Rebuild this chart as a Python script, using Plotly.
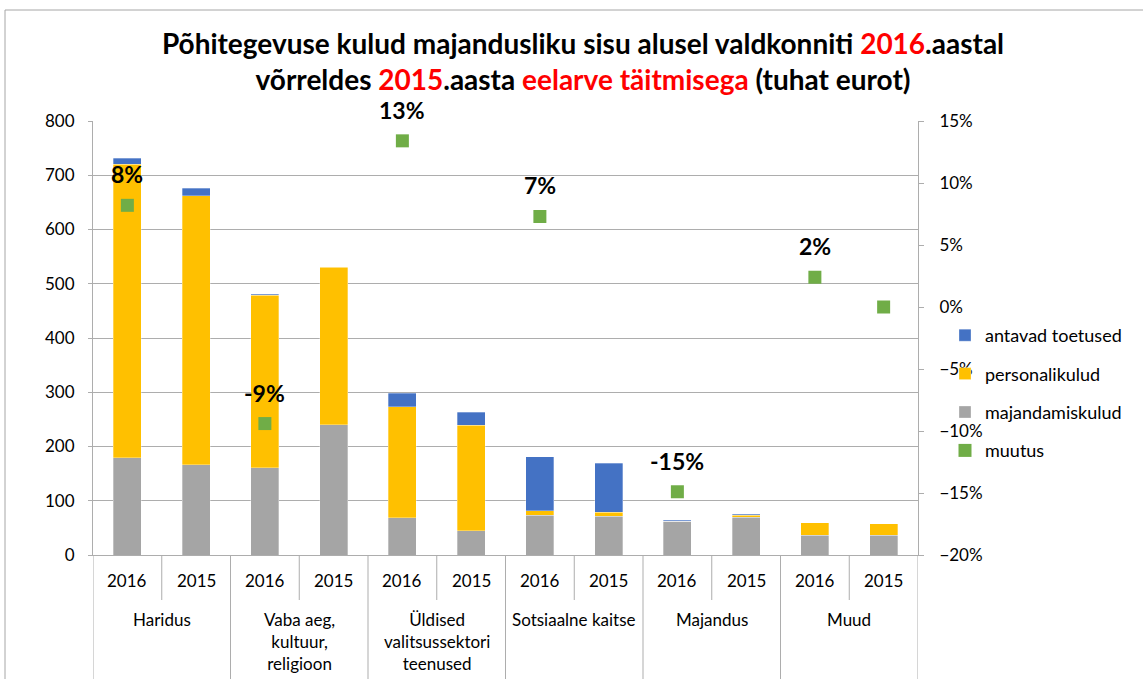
import plotly.graph_objects as go

# ---- data ----
group_labels = ["Haridus", "Vaba aeg,<br>kultuur,<br>religioon",
                "Üldised<br>valitsussektori<br>teenused", "Sotsiaalne kaitse",
                "Majandus", "Muud"]
years = ["2016", "2015"]

toetused = [11, 14, 2, 1, 25, 24, 99, 90, 2, 2, 0, 0]          # antavad toetused
personal = [541, 496, 318, 290, 204, 194, 9, 8, 0, 3, 23, 22]  # personalikulud
majand = [179, 166, 161, 240, 69, 45, 73, 71, 62, 70, 36, 36]  # majandamiskulud
muutus = [0.082, None, -0.094, None, 0.134, None, 0.073, None, -0.149, None, 0.024, 0.0]
muutus_labels = ["8%", "", "-9%", "", "13%", "", "7%", "", "-15%", "", "2%", ""]

x_keys = [f"{gi}|{y}" for gi in range(len(group_labels)) for y in years]
x_years = [y for _ in group_labels for y in years]

FONT = "Lato"
C_BLUE, C_YEL, C_GRAY, C_GREEN = "#4472C4", "#FFC000", "#A5A5A5", "#70AD47"
GRID = "#ADADAD"

fig = go.Figure()
bar_line = dict(color="rgba(255,255,255,0.6)", width=0.5)
fig.add_trace(go.Bar(x=x_keys, y=majand, name="majandamiskulud", marker=dict(color=C_GRAY, line=bar_line),
                     legendgroup="c", legendrank=3))
fig.add_trace(go.Bar(x=x_keys, y=personal, name="personalikulud", marker=dict(color=C_YEL, line=bar_line),
                     legendgroup="b", legendrank=2))
fig.add_trace(go.Bar(x=x_keys, y=toetused, name="antavad toetused", marker=dict(color=C_BLUE, line=bar_line),
                     legendgroup="a", legendrank=1))
fig.add_trace(go.Scatter(x=x_keys, y=muutus, name="muutus", mode="markers", yaxis="y2",
                         marker=dict(symbol="square", size=13, color=C_GREEN),
                         legendgroup="d", legendrank=4))

annotations = []
for k, v, lab in zip(x_keys, muutus, muutus_labels):
    if v is not None and lab:
        annotations.append(dict(x=k, y=v, xref="x", yref="y2", text=f"<b>{lab}</b>", showarrow=False,
                                yshift=31, font=dict(family=FONT, size=23, color="#000")))
# year labels
for i, y in enumerate(x_years):
    annotations.append(dict(x=i, y=0, xref="x", yref="paper", text=y, showarrow=False,
                            yshift=-25, yanchor="middle", font=dict(family=FONT, size=17, color="#000")))
# group labels
for gi, g in enumerate(group_labels):
    annotations.append(dict(x=2 * gi + 0.5, y=0, xref="x", yref="paper", text=g, showarrow=False,
                            yshift=-52, yanchor="top", font=dict(family=FONT, size=17, color="#000")))

shapes = []
n = len(x_keys)
for b in range(n + 1):
    long = (b % 2 == 0)
    shapes.append(dict(type="line", xref="x", yref="paper", x0=b - 0.5, x1=b - 0.5,
                       y0=0, y1=(-124 / 434) if long else (-45 / 434),
                       line=dict(color=GRID, width=1)))
# outer chart border
shapes.append(dict(type="line", xref="paper", yref="paper", x0=(5 - 93) / 825, x1=(1143 - 93) / 825,
                   y0=(555 - 10) / 434, y1=(555 - 10) / 434, line=dict(color="#A6A6A6", width=1)))
shapes.append(dict(type="line", xref="paper", yref="paper", x0=(5 - 93) / 825, x1=(5 - 93) / 825,
                   y0=(555 - 10) / 434, y1=-124 / 434, line=dict(color="#A6A6A6", width=1)))

title_text = ("<b>Põhitegevuse kulud majandusliku sisu alusel valdkonniti "
              "<span style='color:#FF0000'>2016</span>.aastal<br>võrreldes "
              "<span style='color:#FF0000'>2015</span>.aasta "
              "<span style='color:#FF0000'>eelarve täitmisega</span> (tuhat eurot)</b>")

fig.update_layout(
    width=1143, height=679,
    margin=dict(l=93, r=225, t=121, b=124),
    paper_bgcolor="white", plot_bgcolor="white",
    barmode="stack", bargap=0.59,
    font=dict(family=FONT, size=17, color="#000"),
    title=dict(text=title_text, x=583 / 1143, xanchor="center", y=1 - 54 / 679, yanchor="top",
               font=dict(family=FONT, size=28, color="#000")),
    xaxis=dict(type="category", range=[-0.5, n - 0.5], showticklabels=False, showline=True,
               linecolor=GRID, linewidth=1, ticks="", showgrid=False),
    yaxis=dict(range=[0, 800], dtick=100, showgrid=True, gridcolor=GRID, gridwidth=1,
               showline=True, linecolor=GRID, ticks="outside", ticklen=4, tickcolor=GRID,
               ticklabelstandoff=10,
               tickfont=dict(family=FONT, size=17, color="#000"), zeroline=False),
    yaxis2=dict(overlaying="y", side="right", range=[-0.20, 0.15], dtick=0.05, tickformat=".0%",
                showgrid=False, zeroline=False, showline=True, linecolor=GRID, ticks="outside",
                ticklen=5, tickcolor=GRID, ticklabelstandoff=12,
                tickfont=dict(family=FONT, size=17, color="#000")),
    legend=dict(x=(945 - 93) / 825, xanchor="left", y=(555 - 317) / 434, yanchor="top",
                traceorder="grouped", tracegroupgap=12, font=dict(family=FONT, size=18, color="#000"),
                bgcolor="rgba(0,0,0,0)"),
    annotations=annotations, shapes=shapes,
)

fig.write_html("out.html", config={"displayModeBar": False},
               post_script="document.body.style.margin='0';document.body.style.overflow='hidden';")
